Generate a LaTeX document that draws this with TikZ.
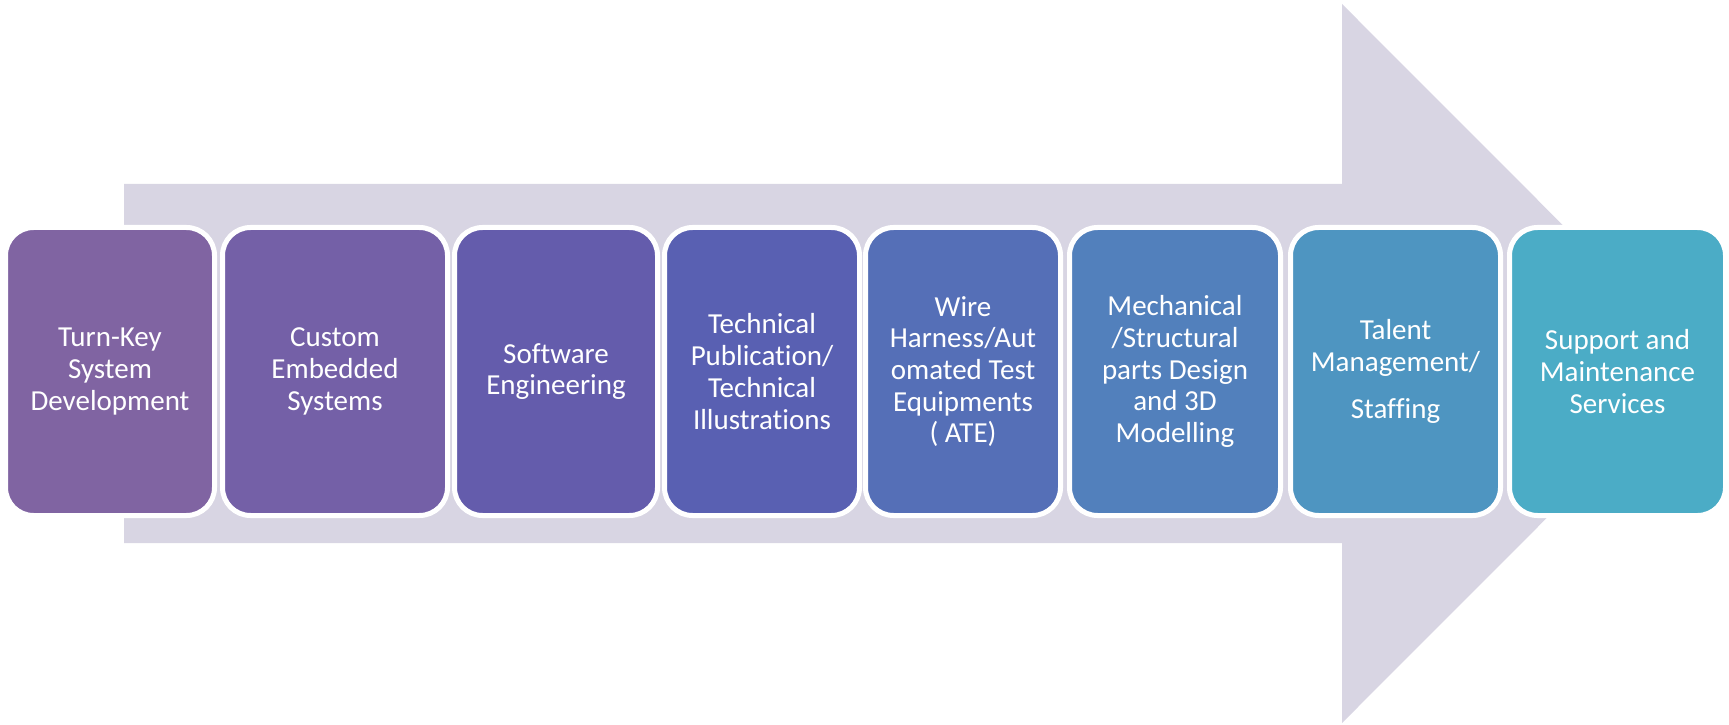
\documentclass[tikz,border=0pt]{standalone}
\usepackage{fontspec}
\setmainfont{Carlito}[Ligatures={NoCommon}]
\begin{document}
\begin{tikzpicture}[x=1pt,y=1pt]
\definecolor{arrowc}{RGB}{216,213,227}
\definecolor{c1}{RGB}{128,100,162}
\definecolor{c2}{RGB}{116,96,167}
\definecolor{c3}{RGB}{100,92,172}
\definecolor{c4}{RGB}{89,96,178}
\definecolor{c5}{RGB}{85,111,183}
\definecolor{c6}{RGB}{82,128,188}
\definecolor{c7}{RGB}{78,149,193}
\definecolor{c8}{RGB}{75,172,198}
\tikzset{
  stage/.style={rectangle, draw=white, line width=5pt, rounded corners=28pt,
    fill=#1, minimum height=288pt, inner sep=2pt, text=white, align=center,
    font=\fontsize{29}{31.7}\selectfont},
  bigarrow/.style={fill=arrowc, draw=none}
}
\useasboundingbox (0,0) rectangle (1729,724);
% big background arrow
\fill[bigarrow] (124,181) -- (124,540) -- (1342,540) -- (1342,720)
  -- (1701,360.5) -- (1342,1) -- (1342,181) -- cycle;
% stages
\node[stage=c1, minimum width=209pt] (b1) at (110,352.5) {Turn-Key\\System\\Development};
\node[stage=c2, minimum width=225pt] (b2) at (335,352.5) {Custom\\Embedded\\Systems};
\node[stage=c3, minimum width=203pt] (b3) at (556,352.5) {Software\\Engineering};
\node[stage=c4, minimum width=195pt] (b4) at (762,352.5) {Technical\\Publication/\\Technical\\Illustrations};
\node[stage=c5, minimum width=195pt] (b5) at (963,352.5) {Wire\\Harness/Aut\\omated Test\\Equipments\\( ATE)};
\node[stage=c6, minimum width=211pt] (b6) at (1175,352.5) {Mechanical\\/Structural\\parts Design\\and 3D\\Modelling};
\node[stage=c7, minimum width=210pt] (b7) at (1395.5,352.5) {Talent\\Management/\\[15pt]Staffing};
\node[stage=c8, minimum width=216pt] (b8) at (1617.5,352.5) {Support and\\Maintenance\\Services};
\end{tikzpicture}
\end{document}
